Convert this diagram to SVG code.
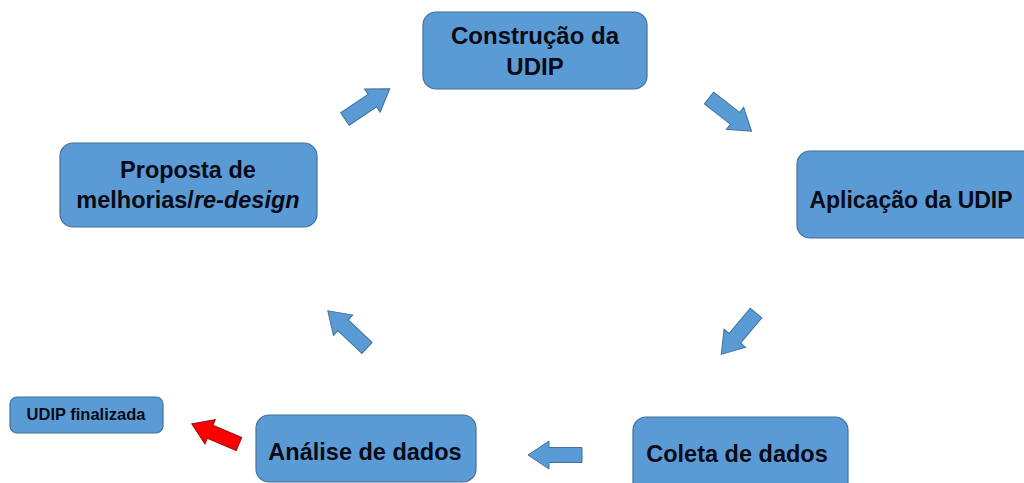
<svg xmlns="http://www.w3.org/2000/svg" width="1024" height="483" viewBox="0 0 1024 483">
<style>
.box{fill:#5B9BD5;stroke:#41719C;stroke-width:1.2}
.t{font-family:"Liberation Sans",Arial,sans-serif;font-weight:bold;fill:#0a0a14;text-anchor:middle}
.arr{fill:#5B9BD5;stroke:#41719C;stroke-width:1}
.red{fill:#FF0000;stroke:#8B1010;stroke-width:1}
</style>
<defs>
<path id="ba" d="M0,-7.5 H33 V-14 L54,0 L33,14 V7.5 H0 Z"/>
</defs>
<rect x="0" y="0" width="1024" height="483" fill="#ffffff"/>
<g id="construcao">
<rect class="box" x="423" y="12" width="224" height="77" rx="13"/>
<text class="t" x="535" y="44" font-size="24">Construção da</text>
<text class="t" x="535" y="75" font-size="24">UDIP</text>
</g>
<g id="aplicacao">
<rect class="box" x="797" y="151" width="240" height="87" rx="13"/>
<text class="t" x="911" y="208" font-size="23">Aplicação da UDIP</text>
</g>
<g id="proposta">
<rect class="box" x="60" y="143" width="257" height="84" rx="13"/>
<text class="t" x="188" y="178" font-size="23.5">Proposta de</text>
<text class="t" x="188" y="208" font-size="23.5">melhorias/<tspan font-style="italic">re-design</tspan></text>
</g>
<g id="coleta">
<rect class="box" x="633" y="417" width="215" height="80" rx="13"/>
<text class="t" x="737" y="462" font-size="23.5">Coleta de dados</text>
</g>
<g id="analise">
<rect class="box" x="256" y="415" width="220" height="67" rx="13"/>
<text class="t" x="365" y="460" font-size="23.5">Análise de dados</text>
</g>
<g id="finalizada">
<rect class="box" x="10" y="397" width="153" height="36" rx="7"/>
<text class="t" x="86" y="420" font-size="16.5">UDIP finalizada</text>
</g>
<g id="connectors">
<use href="#ba" class="arr" transform="translate(345,119) rotate(-34)"/>
<use href="#ba" class="arr" transform="translate(709,98) rotate(38)"/>
<use href="#ba" class="arr" transform="translate(756,313) rotate(130)"/>
<use href="#ba" class="arr" transform="translate(582,455) rotate(180)"/>
<use href="#ba" class="arr" transform="translate(367,348) rotate(223.5)"/>
<use href="#ba" class="red" transform="translate(239,444) rotate(203) scale(0.95)"/>
</g>
</svg>
